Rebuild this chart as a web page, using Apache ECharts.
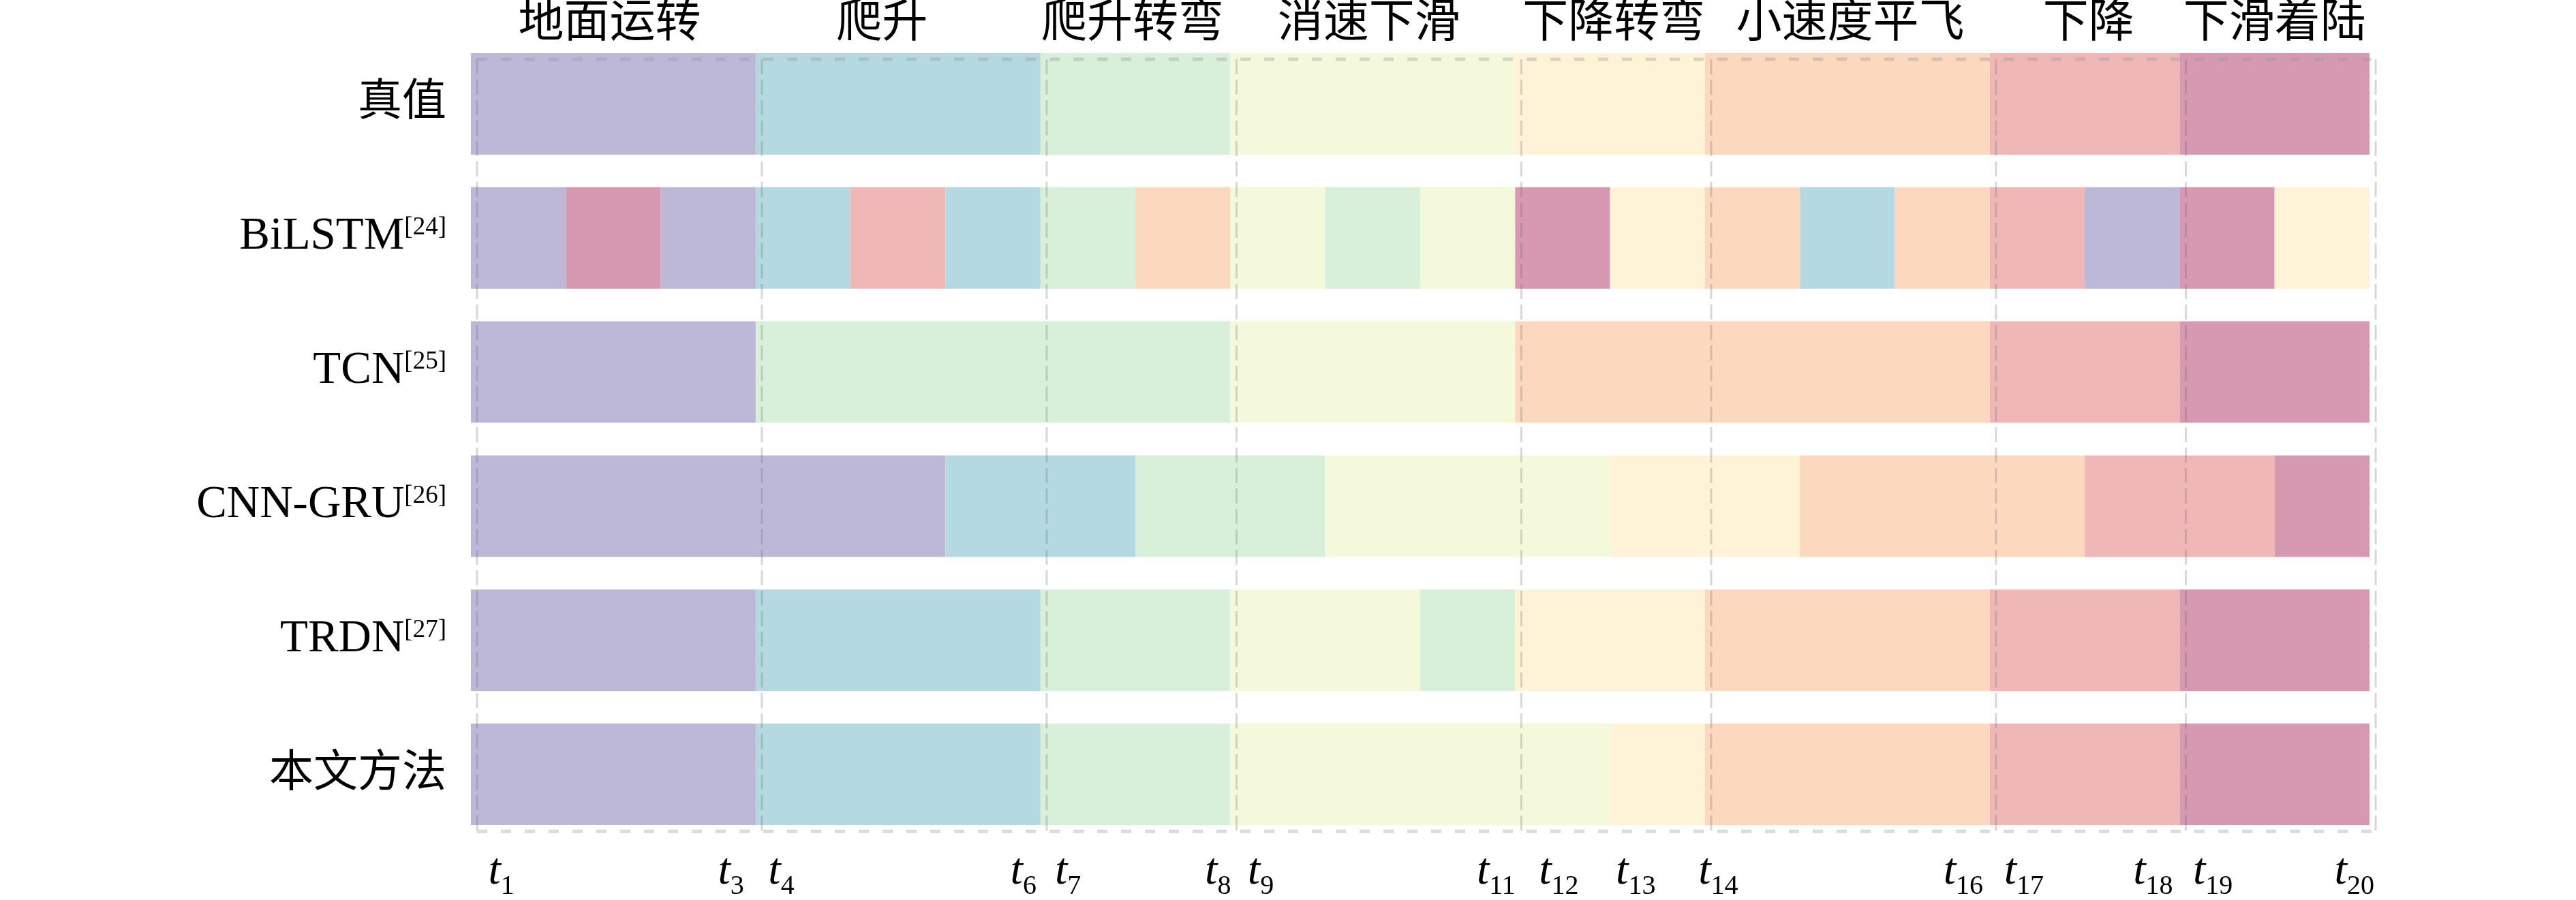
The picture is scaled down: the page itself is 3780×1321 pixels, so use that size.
<!DOCTYPE html>
<html>
<head>
<meta charset="utf-8">
<script src="https://cdn.jsdelivr.net/npm/echarts@6/dist/echarts.min.js"></script>
<style>html,body{margin:0;padding:0;background:#fff;}#c{width:3780px;height:1321px;}</style>
</head>
<body>
<div id="c"></div>
<script>
// ---- data ----
const phases = ['地面运转','爬升','爬升转弯','消速下滑','下降转弯','小速度平飞','下降','下滑着陆'];
const phaseColors = ['#BDB7D8','#B4D9E0','#D8EFDA','#F5F9DC','#FEF3D6','#FBD8BE','#F0B7B7','#D798B1'];
const phaseLabelPos = [1.46, 4.33, 6.97, 9.46, 12.04, 14.53, 17.04, 19.0];
const phaseBounds = [0, 3, 6, 8, 11, 13, 16, 18, 20];
const methods = ['真值','BiLSTM','TCN','CNN-GRU','TRDN','本文方法'];
const methodRefs = ['', '[24]', '[25]', '[26]', '[27]', ''];
// segments: [start, end, phaseIndex]
const rowTruth  = [[0,3,0],[3,6,1],[6,8,2],[8,11,3],[11,13,4],[13,16,5],[16,18,6],[18,20,7]];
const rowBiLSTM = [[0,1,0],[1,2,7],[2,3,0],[3,4,1],[4,5,6],[5,6,1],[6,7,2],[7,8,5],[8,9,3],[9,10,2],[10,11,3],[11,12,7],[12,13,4],[13,14,5],[14,15,1],[15,16,5],[16,17,6],[17,18,0],[18,19,7],[19,20,4]];
const rowTCN    = [[0,3,0],[3,8,2],[8,11,3],[11,16,5],[16,18,6],[18,20,7]];
const rowCNNGRU = [[0,5,0],[5,7,1],[7,9,2],[9,12,3],[12,14,4],[14,17,5],[17,19,6],[19,20,7]];
const rowTRDN   = [[0,3,0],[3,6,1],[6,8,2],[8,10,3],[10,11,2],[11,13,4],[13,16,5],[16,18,6],[18,20,7]];
const rowOurs   = [[0,3,0],[3,6,1],[6,8,2],[8,12,3],[12,13,4],[13,16,5],[16,18,6],[18,20,7]];
const rows = [rowTruth, rowBiLSTM, rowTCN, rowCNNGRU, rowTRDN, rowOurs];
const tickPos = [0.32, 2.74, 3.27, 5.82, 6.29, 7.87, 8.32, 10.8, 11.46, 12.27, 13.14, 15.72, 16.36, 17.72, 18.35, 19.84];
const tickIdx = ['1','3','4','6','7','8','9','11','12','13','14','16','17','18','19','20'];
const rowCenters = [0.5, 1.5, 2.5, 3.5, 4.5, 5.5];
const frameY = [0.168, 5.925];
const guideOffset = 0.065;
const barGap = 0.1215;

// ---- build ----
const segData = [];
rows.forEach((r, ri) => r.forEach(s => segData.push([s[0], s[1], ri, s[2]])));

const serif = "'Liberation Serif','Times New Roman','Noto Sans CJK SC',serif";
const chart = echarts.init(document.getElementById('c'), null, {renderer: 'canvas'});
chart.setOption({
  backgroundColor: '#ffffff',
  animation: false,
  grid: {left: 691, right: 303, top: 54, bottom: 86, containLabel: false},
  xAxis: [{
    type: 'value', min: 0, max: 20, position: 'bottom',
    axisLine: {show: false}, axisTick: {show: false}, splitLine: {show: false},
    axisLabel: {
      customValues: tickPos, margin: 12, verticalAlign: 'top',
      formatter: v => { const i = tickPos.indexOf(v); return i < 0 ? '' : '{t|t}{s|' + tickIdx[i] + '}'; },
      rich: {
        t: {fontFamily: serif, fontStyle: 'italic', fontSize: 66, lineHeight: 66, verticalAlign: 'top', color: '#000'},
        s: {fontFamily: serif, fontSize: 40, lineHeight: 40, verticalAlign: 'top', padding: [34, 0, 0, 0], color: '#000'}
      }
    }
  }, {
    type: 'value', min: 0, max: 20, position: 'top',
    axisLine: {show: false}, axisTick: {show: false}, splitLine: {show: false},
    axisLabel: {
      customValues: phaseLabelPos, margin: 18, verticalAlign: 'middle',
      formatter: v => { const i = phaseLabelPos.indexOf(v); return i < 0 ? '' : phases[i]; },
      fontFamily: serif, fontSize: 67, color: '#000'
    }
  }],
  yAxis: {
    type: 'value', min: 0, max: 6, inverse: true,
    axisLine: {show: false}, axisTick: {show: false}, splitLine: {show: false},
    axisLabel: {
      customValues: rowCenters, margin: 36,
      formatter: v => {
        const i = Math.floor(v);
        const name = methods[i];
        if (/^[A-Za-z]/.test(name)) return '{m|' + name + '}{s|' + methodRefs[i] + '}';
        return '{c|' + name + '}';
      },
      rich: {
        m: {fontFamily: serif, fontSize: 67, lineHeight: 70, verticalAlign: 'top', color: '#000'},
        s: {fontFamily: serif, fontSize: 37, lineHeight: 37, verticalAlign: 'top', padding: [2, 0, 0, 0], color: '#000'},
        c: {fontFamily: serif, fontSize: 65, lineHeight: 70, color: '#000'}
      }
    }
  },
  series: [{
    type: 'custom', name: 'segments', xAxisIndex: 0,
    data: segData, encode: {x: [0, 1], y: 2},
    renderItem: (params, api) => {
      const ri = api.value(2);
      const p1 = api.coord([api.value(0), ri + barGap]);
      const p2 = api.coord([api.value(1), ri + 1 - barGap]);
      return {type: 'rect', shape: {x: p1[0], y: Math.min(p1[1], p2[1]), width: p2[0] - p1[0], height: Math.abs(p2[1] - p1[1])},
        style: {fill: phaseColors[api.value(3)]}};
    },
    z: 2
  }, {
    type: 'custom', name: 'guides', xAxisIndex: 0,
    data: phaseBounds.map(b => [b, 0]), encode: {x: 0, y: 1},
    renderItem: (params, api) => {
      const x = api.value(0) + guideOffset;
      const a = api.coord([x, frameY[0]]);
      const b = api.coord([x, frameY[1]]);
      return {type: 'line', shape: {x1: a[0], y1: a[1], x2: b[0], y2: b[1]},
        style: {stroke: 'rgba(110,110,110,0.28)', lineWidth: 3, lineDash: [22, 8]}};
    },
    z: 5
  }, {
    type: 'custom', name: 'frame', xAxisIndex: 0,
    data: frameY.map(y => [0, y]), encode: {x: 0, y: 1},
    renderItem: (params, api) => {
      const y = api.value(1);
      const a = api.coord([phaseBounds[0] + guideOffset, y]);
      const b = api.coord([phaseBounds[phaseBounds.length - 1] + guideOffset, y]);
      return {type: 'line', shape: {x1: a[0], y1: a[1], x2: b[0], y2: b[1]},
        style: {stroke: 'rgba(150,150,150,0.35)', lineWidth: 5, lineDash: [15, 20]}};
    },
    z: 5
  }]
});
</script>
</body>
</html>
